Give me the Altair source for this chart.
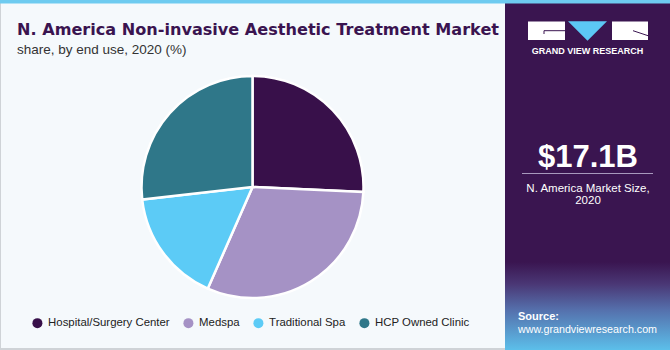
import altair as alt
import pandas as pd

# ---- data ----
categories = ["Hospital/Surgery Center", "Medspa", "Traditional Spa", "HCP Owned Clinic"]
shares = [25.7, 30.9, 16.6, 26.8]
colors = ["#38104a", "#a592c5", "#5ccbf6", "#2f7789"]

title_text = "N. America Non-invasive Aesthetic Treatment Market"
subtitle_text = "share, by end use, 2020 (%)"
market_value = "$17.1B"
market_label = ["N. America Market Size,", "2020"]
source_label = "Source:"
source_url = "www.grandviewresearch.com"
brand = "GRAND VIEW RESEARCH"

df = pd.DataFrame({"segment": categories, "share": shares, "idx": list(range(len(categories)))})
one = pd.DataFrame({"a": [0]})

PURPLE = "#3a1550"
FONT = "Liberation Sans"


def rect(x, x2, y, y2, color):
    return alt.Chart(one).mark_rect(color=color).encode(
        x=alt.value(x), x2=alt.value(x2), y=alt.value(y), y2=alt.value(y2)
    )


def rule(x, x2, y, y2, color, w=1):
    return alt.Chart(one).mark_rule(color=color, strokeWidth=w).encode(
        x=alt.value(x), x2=alt.value(x2), y=alt.value(y), y2=alt.value(y2)
    )


def text(t, x, y, size, color, bold=False, align="left", baseline="alphabetic", font=FONT):
    return alt.Chart(one).mark_text(
        text=t, font=font, fontSize=size, color=color,
        fontWeight="bold" if bold else "normal", align=align, baseline=baseline
    ).encode(x=alt.value(x), y=alt.value(y))


layers = []
# borders / panels
layers.append(rect(0, 670, 0, 350, "#cfd3d7"))
layers.append(rect(1, 505, 0, 348, "#f5f9fc"))
layers.append(rect(505, 670, 0, 350, PURPLE))
grad = alt.Gradient(
    gradient="linear",
    stops=[
        alt.GradientStop(color=PURPLE, offset=0),
        alt.GradientStop(color="#4a3775", offset=0.25),
        alt.GradientStop(color="#5571ad", offset=0.55),
        alt.GradientStop(color="#5cbfea", offset=1),
    ],
    x1=0, x2=0, y1=0, y2=1,
)
layers.append(alt.Chart(one).mark_rect(color=grad).encode(
    x=alt.value(505), x2=alt.value(670), y=alt.value(262), y2=alt.value(350)))
layers.append(rect(0, 670, 0, 3.5, "#6ecbf0"))

# titles
layers.append(text(title_text, 17, 34.5, 16.1, "#3a1450", bold=True, font="DejaVu Sans"))
layers.append(text(subtitle_text, 17, 53.5, 13.5, "#333333"))

# logo
layers.append(rect(528, 565, 21.5, 40, "white"))
layers.append(rect(612, 648, 21.5, 40, "white"))
layers.append(rule(544, 565, 30.7, 30.7, PURPLE, 1))
layers.append(rule(544, 544, 30.7, 34, PURPLE, 1))
layers.append(rule(633, 648, 30.7, 35.7, PURPLE, 1))
layers.append(alt.Chart(one).mark_point(
    shape="M-1,-0.5L1,-0.5L0,0.5Z", size=1521, filled=True, opacity=1,
    color="#5cc8f5", strokeWidth=0
).encode(x=alt.value(587.5), y=alt.value(31)))
layers.append(text(brand, 587.5, 54.3, 9, "white", bold=True, align="center"))

# market size box
layers.append(text(market_value, 588, 166.7, 31, "white", bold=True, align="center"))
layers.append(rule(522, 653, 173.5, 173.5, "#a899bd", 1))
layers.append(text(market_label[0], 588, 191.5, 11.5, "white", align="center"))
layers.append(text(market_label[1], 588, 204, 11.5, "white", align="center"))

# source
layers.append(text(source_label, 518, 320, 11, "white", bold=True))
layers.append(text(source_url, 518, 332.5, 10.7, "white"))

# pie
pie = alt.Chart(df).mark_arc(radius=111, stroke="white", strokeWidth=2.5).encode(
    theta=alt.Theta("share:Q", stack=True),
    order=alt.Order("idx:Q"),
    color=alt.Color(
        "segment:N",
        scale=alt.Scale(domain=categories, range=colors),
        sort=categories,
        legend=alt.Legend(
            title=None, orient="none", legendX=31.7, legendY=317,
            direction="horizontal", symbolType="circle", symbolSize=100,
            symbolStrokeWidth=0, symbolOpacity=1, labelFont=FONT,
            labelFontSize=11.4, labelColor="#222222", columnPadding=13,
            labelOffset=5, padding=0, labelLimit=300,
        ),
    ),
    x=alt.value(252.5),
    y=alt.value(187),
)
layers.append(pie)

chart = alt.layer(*layers).properties(
    width=670, height=350, padding=0,
    autosize=alt.AutoSizeParams(type="none"),
).configure_view(stroke=None).configure(background="#f5f9fc")

chart.save("out.html", embed_options={"renderer": "svg", "actions": False})
